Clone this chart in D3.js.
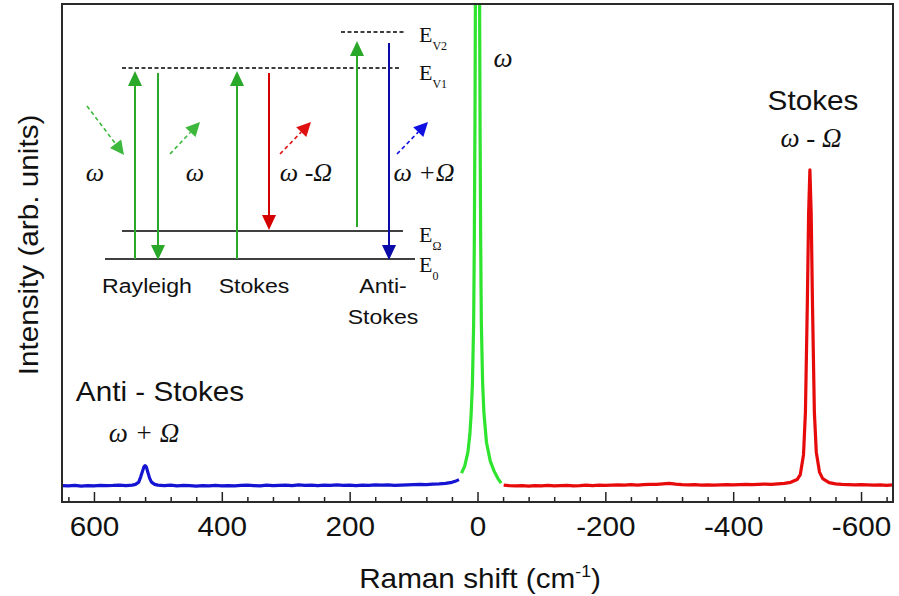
<!DOCTYPE html>
<html>
<head>
<meta charset="utf-8">
<script src="https://cdn.jsdelivr.net/npm/d3@7"></script>
<style>
  body { margin: 0; background: #fff; }
  svg { display: block; }
  text { font-family: "Liberation Sans", Arial, sans-serif; fill: #111; }
  .greek { font-family: "Liberation Serif", "Times New Roman", serif; font-style: italic; }
  .serif { font-family: "Liberation Serif", "Times New Roman", serif; }
</style>
</head>
<body>
<div id="chart"></div>
<script>
// anti-Stokes side (positive shift), blue
var blueShift = [650, 640, 630, 620, 610, 600, 590, 580, 570, 560, 550, 540, 535, 530, 527, 524, 522, 520, 518, 516, 513, 510, 505, 500,
  490, 480, 470, 460, 450, 440, 430, 420, 410, 400, 390, 380, 370, 360, 350, 340, 330, 320, 310, 300, 290, 280, 270, 260, 250,
  240, 230, 220, 210, 200, 190, 180, 170, 160, 150, 140, 130, 120, 110, 100, 90, 80, 70, 60, 50, 40, 35, 29];
var blueInt = [33, 32.5, 33.5, 32, 33, 32.5, 33.5, 32.8, 33.2, 34, 33, 34, 35.5, 40, 50, 62, 70, 73, 70, 61, 48, 40, 35.5, 34,
  33, 34, 32.5, 33.5, 33, 32, 33, 32.5, 33.5, 32.3, 33, 32.5, 33.5, 34, 33, 32.5, 34, 33, 33.5, 34, 33, 34.5, 33.5, 34, 33,
  34, 33.5, 34.5, 33.5, 34, 33, 34, 33.5, 34.5, 34, 34.5, 33.5, 34, 34.5, 35, 35.5, 35, 36, 36.5, 37.5, 39.5, 41.5, 45];

// Rayleigh line around zero, green
var greenShift = [25, 20, 15, 12, 10, 8, 6, 5, 4, 3, 2, 0, -2, -3, -4, -5, -6, -8, -10, -14, -20, -26, -32, -37];
var greenInt = [58, 72, 100, 135, 175, 235, 360, 520, 760, 1100, 1800, 3000, 1800, 1100, 760, 520, 360, 240, 180, 120, 82, 62, 47, 38];

// Stokes side (negative shift), red
var redShift = [-41, -45, -50, -60, -70, -80, -90, -100, -110, -120, -130, -140, -150, -160, -170, -180, -190, -200, -210, -220,
  -230, -240, -250, -260, -270, -280, -290, -300, -310, -320, -330, -340, -350, -360, -370, -380, -390, -400, -410, -420, -430,
  -440, -450, -460, -470, -480, -490, -500, -505, -510, -513, -516, -518, -520, -522, -524, -527, -530, -535, -540, -550, -560,
  -570, -580, -590, -600, -610, -620, -630, -640, -650];
var redInt = [34, 33.5, 33, 32.5, 33, 32, 33, 32.5, 33.5, 32.5, 33, 33.5, 32.5, 33, 34, 33, 34, 33.5, 34, 34.5,
  34, 35, 34, 35, 35.5, 35.5, 36.5, 37.5, 36, 35, 34.5, 35, 34, 34.5, 34, 34.5, 35, 34.5, 35, 35.5, 35,
  35.5, 36, 35.5, 36.5, 37.5, 39.5, 45, 55, 95, 180, 400, 580, 667, 580, 400, 180, 100, 60, 47, 39, 36.5,
  35.5, 35, 34.5, 35, 34.5, 34, 34.5, 33.5, 34.5];

var majorTicks = [600, 400, 200, 0, -200, -400, -600];

var width = 899, height = 596;
var pLeft = 62, pRight = 893, pTop = 4, pBottom = 502;
var sx = 1.1; // text in the picture is a bit wide

var x = d3.scaleLinear().domain([650, -650]).range([pLeft, pRight]);
var y = d3.scaleLinear().domain([0, 1000]).range([pBottom, pTop]);

var svg = d3.select("#chart").append("svg")
    .attr("width", width)
    .attr("height", height);

svg.append("defs").append("clipPath")
    .attr("id", "plotclip")
  .append("rect")
    .attr("x", pLeft).attr("y", pTop)
    .attr("width", pRight - pLeft).attr("height", pBottom - pTop);

function stretchText(g, tx, ty, str, size, rot) {
  return g.append("text")
    .attr("transform", "translate(" + tx + "," + ty + ")" + (rot ? " rotate(" + rot + ")" : "") + " scale(" + sx + ",1)")
    .attr("text-anchor", "middle")
    .style("font-size", size + "px")
    .text(str);
}

// spectrum
var line = d3.line()
    .x(function(d) { return x(d[0]); })
    .y(function(d) { return y(d[1]); });

var series = [
  { shift: blueShift, val: blueInt, color: "#1414d2" },
  { shift: redShift, val: redInt, color: "#e60a0a" },
  { shift: greenShift, val: greenInt, color: "#2ee42e" }
];

var plot = svg.append("g").attr("clip-path", "url(#plotclip)");
series.forEach(function(s) {
  plot.append("path")
      .datum(d3.zip(s.shift, s.val))
      .attr("fill", "none")
      .attr("stroke", s.color)
      .attr("stroke-width", 3.2)
      .attr("stroke-linejoin", "round")
      .attr("d", line);
});

// x axis, ticks pointing in
var minorTicks = d3.range(640, -641, -40).filter(function(v) { return majorTicks.indexOf(v) < 0; });

svg.append("g")
    .attr("transform", "translate(0," + pBottom + ")")
    .call(d3.axisBottom(x).tickValues(minorTicks).tickSize(-5).tickFormat(""))
    .call(function(g) { g.select(".domain").remove(); })
    .selectAll("line").attr("stroke", "#222").attr("stroke-width", 1.5);

var ax = svg.append("g")
    .attr("transform", "translate(0," + pBottom + ")")
    .call(d3.axisBottom(x).tickValues(majorTicks).tickSize(-10).tickPadding(15)
      .tickFormat(function(d) { return String(d); }));
ax.select(".domain").remove();
ax.selectAll("line").attr("stroke", "#222").attr("stroke-width", 1.5);
ax.selectAll("text")
    .attr("fill", "#111")
    .style("font-family", "'Liberation Sans', Arial, sans-serif")
    .style("font-size", "27px")
    .attr("transform", "scale(" + sx + ",1)");

// frame
svg.append("rect")
    .attr("x", pLeft).attr("y", pTop)
    .attr("width", pRight - pLeft).attr("height", pBottom - pTop)
    .attr("fill", "none")
    .attr("stroke", "#2a2a2a")
    .attr("stroke-width", 2);

// axis titles
var xt = stretchText(svg, 480, 588, "Raman shift (cm", 27);
xt.append("tspan").attr("dy", -11).style("font-size", "16px").text("-1");
xt.append("tspan").attr("dy", 11).text(")");

stretchText(svg, 38, 245, "Intensity (arb. units)", 27, -90);

// peak annotations
stretchText(svg, 813, 110, "Stokes", 27);
svg.append("text").attr("class", "greek").attr("x", 811).attr("y", 147)
    .attr("text-anchor", "middle").style("font-size", "27px").text("\u03c9 - \u03a9");
stretchText(svg, 160, 401, "Anti - Stokes", 27);
svg.append("text").attr("class", "greek").attr("x", 144).attr("y", 442)
    .attr("text-anchor", "middle").style("font-size", "27px").text("\u03c9 + \u03a9");
svg.append("text").attr("class", "greek").attr("x", 503).attr("y", 67)
    .attr("text-anchor", "middle").style("font-size", "27px").text("\u03c9");

// ---- energy level inset ----
var inset = svg.append("g");
var green = "#2aa82a", red = "#d40000", blue = "#0a0aa8";

function level(x1, x2, yy, dashed) {
  inset.append("line")
      .attr("x1", x1).attr("x2", x2).attr("y1", yy).attr("y2", yy)
      .attr("stroke", "#000").attr("stroke-width", dashed ? 1.4 : 1.5)
      .attr("stroke-dasharray", dashed ? "4,2.5" : null);
}
level(341, 405, 32, true);
level(122, 400, 68, true);
level(122, 403, 231, false);
level(105, 415, 259, false);

// arrow with filled head at (x2,y2)
function arrow(x1, y1, x2, y2, color, dashed, hl, hw) {
  var dx = x2 - x1, dy = y2 - y1, len = Math.sqrt(dx * dx + dy * dy);
  var ux = dx / len, uy = dy / len;
  var bx = x2 - ux * hl, by = y2 - uy * hl;
  inset.append("line")
      .attr("x1", x1).attr("y1", y1).attr("x2", bx).attr("y2", by)
      .attr("stroke", color).attr("stroke-width", dashed ? 1.6 : 2)
      .attr("stroke-dasharray", dashed ? "4,3" : null);
  inset.append("path")
      .attr("d", "M" + x2 + "," + y2 +
        "L" + (bx - uy * hw) + "," + (by + ux * hw) +
        "L" + (bx + uy * hw) + "," + (by - ux * hw) + "Z")
      .attr("fill", color);
}
arrow(135, 259, 135, 71, green, false, 15, 7);
arrow(158, 73, 158, 260, green, false, 15, 7);
arrow(237, 259, 237, 71, green, false, 15, 7);
arrow(269, 73, 269, 230, red, false, 15, 7);
arrow(357, 227, 357, 41, green, false, 15, 7);
arrow(389, 43, 389, 260, blue, false, 15, 7);

arrow(87, 106, 124, 155, "#3cb83c", true, 14, 7);
arrow(170, 154, 200, 122, "#3cb83c", true, 14, 7);
arrow(280, 154, 311, 122, "#e01010", true, 14, 7);
arrow(397, 154, 428, 122, "#1010e0", true, 14, 7);

function greek(tx, str) {
  inset.append("text").attr("class", "greek")
      .attr("x", tx).attr("y", 181)
      .attr("text-anchor", "middle")
      .style("font-size", "26px")
      .text(str);
}
greek(95, "\u03c9");
greek(195, "\u03c9");
greek(306, "\u03c9 -\u03a9");
greek(424, "\u03c9 +\u03a9");

function elabel(ty, sub) {
  var t = inset.append("text").attr("class", "serif")
      .attr("x", 419).attr("y", ty)
      .style("font-size", "22px")
      .text("E");
  t.append("tspan").attr("dy", 8).style("font-size", "12px").text(sub);
}
elabel(42, "V2");
elabel(80, "V1");
elabel(242, "\u03a9");
elabel(272, "0");

stretchText(inset, 147, 293, "Rayleigh", 21);
stretchText(inset, 254, 293, "Stokes", 21);
stretchText(inset, 383, 293, "Anti-", 21);
stretchText(inset, 383, 324, "Stokes", 21);
</script>
</body>
</html>
